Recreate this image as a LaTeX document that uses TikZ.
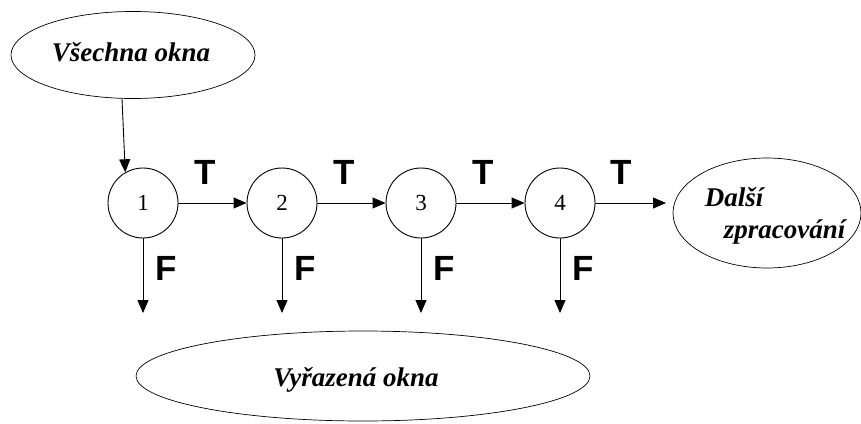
\documentclass[tikz,border=0pt]{standalone}
\usepackage{fontspec}
\setmainfont{Liberation Serif}
\newfontfamily\labelsans{Liberation Sans}
\usetikzlibrary{shapes.geometric,arrows.meta}
\begin{document}
\begin{tikzpicture}[x=1pt,y=-1pt,
  line width=0.9pt,
  flow/.style={-{Triangle[length=13pt,width=11pt]}},
  test/.style={circle,draw,minimum size=70pt,inner sep=0pt,font=\fontsize{23}{23}\selectfont},
  setbox/.style={ellipse,draw,line width=0.7pt,inner sep=0pt},
  setlabel/.style={font=\fontsize{27}{30}\selectfont\bfseries\itshape},
  tf/.style={font=\labelsans\fontsize{35}{35}\selectfont\bfseries}]
\useasboundingbox (0,0) rectangle (861,423);

% input and output sets
\node[setbox,minimum width=244pt,minimum height=87pt] (all) at (133,55) {};
\node[setlabel] at (131,52) {Všechna okna};
\node[setbox,minimum width=188pt,minimum height=110pt] (next) at (767,213) {};
\node[setlabel,anchor=west] (nextA) at (701,197) {Další};
\node[setlabel,anchor=west] (nextB) at (720,232) {zpracování};
\node[setbox,minimum width=454pt,minimum height=90pt] (rej) at (363,376) {};
\node[setlabel] at (356,380) {Vyřazená okna};

% cascade of tests
\node[test] (t1) at (143,203) {1};
\node[test] (t2) at (282,203) {2};
\node[test] (t3) at (421,203) {3};
\node[test] (t4) at (560,203) {4};

\coordinate (in) at (122,99);
\coordinate (out) at (666,203);
\draw[flow] (in) -- (t1.120);
\draw[flow] (t1) -- (t2);
\draw[flow] (t2) -- (t3);
\draw[flow] (t3) -- (t4);
\draw[flow] (t4) -- (out);

% rejection branches
\foreach \k/\x in {1/143,2/282,3/421,4/560}{
  \coordinate (d\k) at (\x,313);
  \draw[flow] (t\k) -- (d\k);
  \node[tf] (f\k) at (\x+23,268) {F};
}
\foreach \k/\x in {1/205,2/344,3/483,4/621}{
  \node[tf] (tl\k) at (\x,172) {T};
}
\end{tikzpicture}
\end{document}
